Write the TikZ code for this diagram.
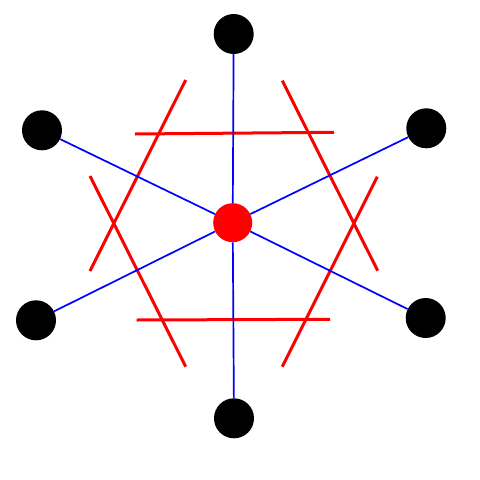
\documentclass[tikz,border=0pt]{standalone}
\begin{document}
\begin{tikzpicture}[x=1pt,y=-1pt,
  outer/.style={circle,fill=black,inner sep=0pt,minimum size=40pt},
  hub/.style={circle,fill=red,inner sep=0pt,minimum size=39pt},
  spoke/.style={draw=blue,line width=1.7pt},
  bar/.style={draw=red,line width=3pt}]
\useasboundingbox (0,0) rectangle (480,480);
% red lines
\draw[bar] (135,134) -- (334,132.3);
\draw[bar] (136.7,320) -- (330,319.3);
\draw[bar] (185.7,80) -- (90,271);
\draw[bar] (90,176) -- (185.7,366.7);
\draw[bar] (282.3,80.7) -- (377.7,270.7);
\draw[bar] (377.3,176.7) -- (282.3,366.7);
% nodes
\node[outer] (t) at (233.7,34) {};
\node[outer] (ul) at (42,130.3) {};
\node[outer] (ur) at (426.3,128.3) {};
\node[outer] (ll) at (36,320.3) {};
\node[outer] (lr) at (425.7,318) {};
\node[outer] (b) at (234,418.3) {};
\node[hub] (c) at (232.7,222.7) {};
\foreach \n in {t,ul,ur,ll,lr,b} \draw[spoke] (c) -- (\n);
\end{tikzpicture}
\end{document}
